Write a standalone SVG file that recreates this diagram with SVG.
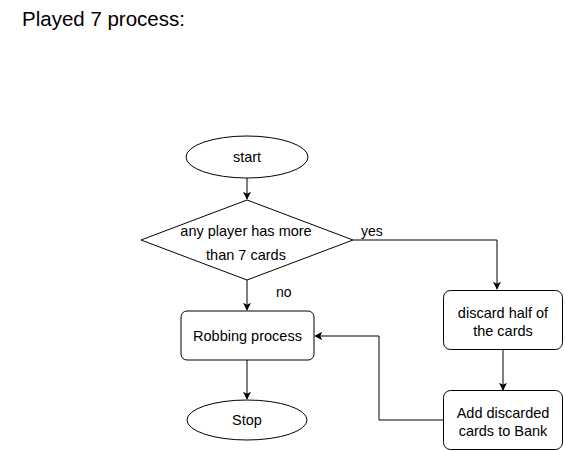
<svg xmlns="http://www.w3.org/2000/svg" width="565" height="451" viewBox="0 0 565 451">
<defs>
<style>
.s{fill:#fff;stroke:#000;stroke-width:1}
.t{font-family:"Liberation Sans",Arial,sans-serif;font-size:14.5px;fill:#000;text-anchor:middle}
.c{fill:none;stroke:#000;stroke-width:1}
.l{font-family:"Liberation Sans",Arial,sans-serif;font-size:14px;fill:#000}
</style>
<marker id="a" viewBox="0 0 10 10" refX="9" refY="5" markerWidth="8" markerHeight="8" markerUnits="userSpaceOnUse" orient="auto">
<path d="M0,0 L10,5 L0,10 L2.5,5 Z" fill="#000"/>
</marker>
</defs>
<rect width="565" height="451" fill="#fff"/>
<text x="22" y="26" font-family="'Liberation Sans',Arial,sans-serif" font-size="20.5" fill="#000">Played 7 process:</text>
<g id="connectors">
<path class="c" d="M247,178 V199" marker-end="url(#a)"/>
<path class="c" d="M353,240 H497 V289" marker-end="url(#a)"/>
<path class="c" d="M247,280 V310" marker-end="url(#a)"/>
<path class="c" d="M247,360 V399" marker-end="url(#a)"/>
<path class="c" d="M503,350 V390" marker-end="url(#a)"/>
<path class="c" d="M443,420 H379 V336 H315" marker-end="url(#a)"/>
<text class="l" x="361" y="236">yes</text>
<text class="l" x="276" y="297">no</text>
</g>
<g id="start">
<ellipse class="s" cx="247" cy="157" rx="61" ry="21"/>
<text class="t" x="247" y="162" font-size="14">start</text>
</g>
<g id="decision">
<path class="s" d="M247,200 L353,240 L247,280 L141,240 Z"/>
<text class="t" x="246" y="236" font-size="14">any player has more</text>
<text class="t" x="246" y="260" font-size="14">than 7 cards</text>
</g>
<g id="robbing">
<rect class="s" x="181" y="311" width="133" height="49" rx="6"/>
<text class="t" x="247.5" y="341">Robbing process</text>
</g>
<g id="stop">
<ellipse class="s" cx="247" cy="420" rx="60" ry="20"/>
<text class="t" x="247" y="425">Stop</text>
</g>
<g id="discard">
<rect class="s" x="443.5" y="290.5" width="119" height="59" rx="7"/>
<text class="t" x="503" y="318">discard half of</text>
<text class="t" x="503" y="336">the cards</text>
</g>
<g id="add">
<rect class="s" x="443.5" y="390.5" width="119" height="59" rx="7"/>
<text class="t" x="503" y="418">Add discarded</text>
<text class="t" x="503" y="436">cards to Bank</text>
</g>
</svg>
